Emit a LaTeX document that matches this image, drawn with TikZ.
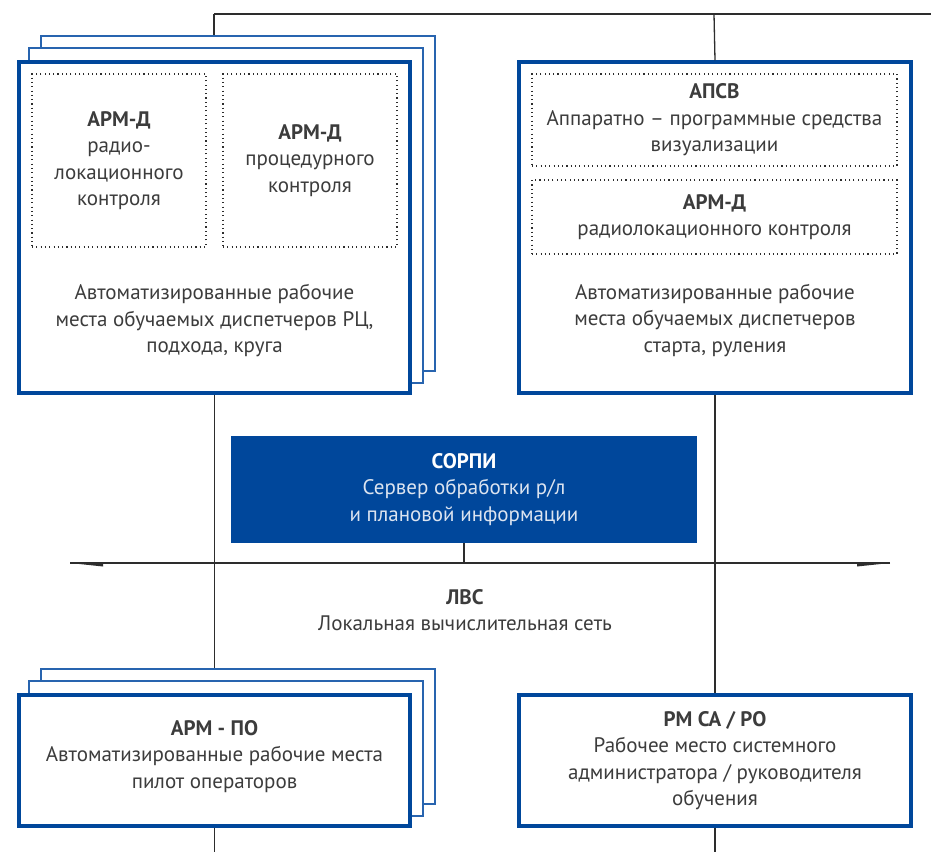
\documentclass[tikz,border=0pt]{standalone}
\usepackage{fontspec}
\setmainfont{PT Sans}
\definecolor{armblue}{RGB}{0,71,155}
\definecolor{stackblue}{RGB}{40,100,175}
\definecolor{txtgray}{RGB}{60,60,60}
\definecolor{linegray}{RGB}{45,45,45}
\definecolor{lighttxt}{RGB}{220,228,240}
\tikzset{
    mainbox/.style={draw=armblue, line width=3.5pt, fill=white, minimum width=391pt, inner sep=0pt},
    stackbox/.style={draw=stackblue, line width=1.4pt, fill=white, minimum width=394pt, inner sep=0pt},
    dotbox/.style={draw=linegray, line width=1.1pt, dash pattern=on 1.1pt off 3.2pt, inner sep=0pt, align=center, text=txtgray},
    label/.style={align=center, text=txtgray, inner sep=0pt},
    wire/.style={draw=linegray, line width=1.3pt},
}
\begin{document}
\begin{tikzpicture}[x=1pt, y=-1pt, font=\fontsize{21}{26.5}\selectfont]
    \useasboundingbox (0,0) rectangle (931,852);
    \coordinate (bus1) at (214,14);
    \coordinate (bus2) at (714,14);
    \coordinate (busend) at (931,14);
    \coordinate (bottom) at (0,852);
    \coordinate (lanL) at (70,563);
    \coordinate (lanR) at (890,563);

    % stacked workplaces
    \foreach \k in {2,1} {
            \node[stackbox, minimum height=335pt] (armd\k) at ({226+12*(\k-1)}, {215.5-12*(\k-1)}) {};
            \node[stackbox, minimum height=135pt] (arpo\k) at ({226+12*(\k-1)}, {748.5-12*(\k-1)}) {};
        }
    \node[mainbox, minimum height=331pt] (armd) at (214.5,227.5) {};
    \node[mainbox, minimum height=131pt] (arpo) at (214.5,760.5) {};
    \node[mainbox, minimum width=392pt, minimum height=331pt] (apsv) at (715,227.5) {};
    \node[mainbox, minimum width=392pt, minimum height=131pt] (rmsa) at (715,760.5) {};

    % inner blocks
    \node[dotbox, minimum width=174pt, minimum height=173pt] (radar) at (119,160.5)
        {\textbf{АРМ-Д}\\радио-\\локационного\\контроля};
    \node[dotbox, minimum width=174pt, minimum height=173pt] (proc) at (310,160.5)
        {\textbf{АРМ-Д}\\процедурного\\контроля};
    \node[dotbox, minimum width=365pt, minimum height=92pt] (vis) at (714.5,120)
        {\textbf{АПСВ}\\Аппаратно – программные средства\\визуализации};
    \node[dotbox, minimum width=365pt, minimum height=74pt] (radar2) at (714.5,217)
        {\textbf{АРМ-Д}\\радиолокационного контроля};

    \node[label] (armdtxt) at (214.5,321) {Автоматизированные рабочие\\места обучаемых диспетчеров РЦ,\\подхода, круга};
    \node[label] (apsvtxt) at (715,320.5) {Автоматизированные рабочие\\места обучаемых диспетчеров\\старта, руления};
    \node[label] (arpotxt) at (214.5,756.5) {\textbf{АРМ - ПО}\\Автоматизированные рабочие места\\пилот операторов};
    \node[label] (rmsatxt) at (715,760.5) {\textbf{РМ СА / РО}\\Рабочее место системного\\администратора / руководителя\\обучения};

    % server
    \node[fill=armblue, minimum width=466pt, minimum height=107pt, align=center, text=lighttxt, inner sep=0pt] (sorpi) at (464,489.5)
        {\textcolor{white}{\textbf{СОРПИ}}\\Сервер обработки р/л\\и плановой информации};

    \node[label] (lan) at (465,610) {\textbf{ЛВС}\\Локальная вычислительная сеть};

    % wires
    \draw[wire] (bus1) -- (busend);
    \draw[wire] (bus1) -- (bus1 |- armd2.north);
    \draw[wire] (bus2) -- (apsv.north);
    \draw[wire] (armd.south) -- (armd.south |- arpo2.north);
    \draw[wire] (apsv.south) -- (rmsa.north);
    \draw[wire] (arpo.south) -- (arpo.south |- bottom);
    \draw[wire] (rmsa.south) -- (rmsa.south |- bottom);
    \draw[wire] (sorpi.south) -- (sorpi.south |- lanL);
    \draw[wire] (lanL) -- (lanR);
    \fill[linegray] (lanL) -- ++(33,0) -- ++(0,3.5) -- cycle;
    \fill[linegray] (lanR) -- ++(-33,0) -- ++(0,3.5) -- cycle;
\end{tikzpicture}
\end{document}
